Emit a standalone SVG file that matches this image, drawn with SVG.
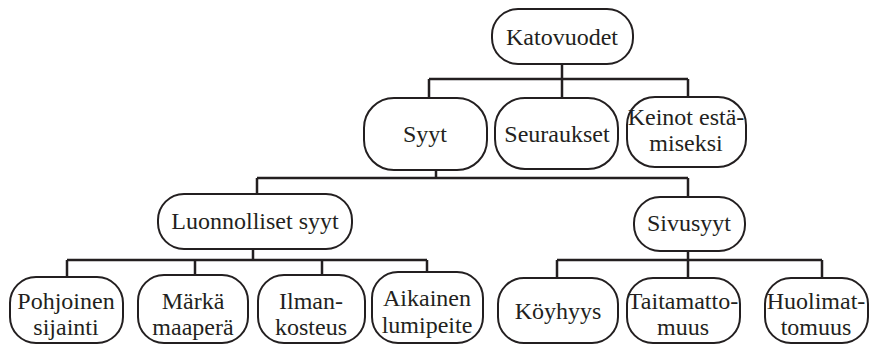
<svg xmlns="http://www.w3.org/2000/svg" width="870" height="347" viewBox="0 0 870 347">
<rect width="870" height="347" fill="#fff"/>
<g id="conn" fill="none" stroke="#231f20" stroke-width="2.5">
<path d="M562 64V79M429 79H688M429 79V98M562 79V98M688 79V97"/>
<path d="M436 170V178M257 178H688M257 178V194M688 178V197"/>
<path d="M253 249V260M67 260H427M67 260V277M195 260V275M322 260V275M427 260V272"/>
<path d="M688 251V260M557 260H822M557 260V278M688 260V278M822 260V278"/>
</g>
<g fill="#fff" stroke="#231f20" stroke-width="2">
<rect id="katovuodet-box" x="492" y="9" width="141" height="55" rx="26"/>
<rect id="syyt-box" x="364" y="98" width="123" height="72" rx="30"/>
<rect id="seuraukset-box" x="495" y="98" width="123" height="71" rx="30"/>
<rect id="keinot-box" x="627" y="97" width="119" height="70" rx="28"/>
<rect id="luonnolliset-box" x="158" y="194" width="194" height="55" rx="26"/>
<rect id="sivusyyt-box" x="634" y="197" width="111" height="54" rx="26"/>
<rect id="pohjoinen-box" x="10" y="277" width="113" height="66" rx="26"/>
<rect id="marka-box" x="138" y="275" width="110" height="68" rx="26"/>
<rect id="ilman-box" x="258" y="275" width="107" height="68" rx="26"/>
<rect id="aikainen-box" x="372" y="272" width="111" height="71" rx="26"/>
<rect id="koyhyys-box" x="498" y="278" width="120" height="65" rx="26"/>
<rect id="taitamatto-box" x="627" y="278" width="113" height="65" rx="26"/>
<rect id="huolimat-box" x="765" y="278" width="103" height="65" rx="26"/>
</g>
<g fill="#231f20" text-anchor="middle">
<text x="562" y="45" font-family="Liberation Serif" font-size="24">Katovuodet</text>
<text x="425" y="142" font-family="Liberation Serif" font-size="24">Syyt</text>
<text x="557" y="142" font-family="Liberation Serif" font-size="24">Seuraukset</text>
<text x="686" y="125" font-family="Liberation Serif" font-size="24">Keinot estä-</text>
<text x="686" y="151" font-family="Liberation Serif" font-size="24">miseksi</text>
<text x="255" y="229" font-family="Liberation Serif" font-size="24">Luonnolliset syyt</text>
<text x="689" y="231" font-family="Liberation Serif" font-size="24">Sivusyyt</text>
<text x="66" y="309" font-family="Liberation Serif" font-size="24">Pohjoinen</text>
<text x="66" y="335" font-family="Liberation Serif" font-size="24">sijainti</text>
<text x="193" y="309" font-family="Liberation Serif" font-size="24">Märkä</text>
<text x="193" y="335" font-family="Liberation Serif" font-size="24">maaperä</text>
<text x="311" y="309" font-family="Liberation Serif" font-size="24">Ilman-</text>
<text x="311" y="335" font-family="Liberation Serif" font-size="24">kosteus</text>
<text x="427" y="306" font-family="Liberation Serif" font-size="24">Aikainen</text>
<text x="427" y="333" font-family="Liberation Serif" font-size="24">lumipeite</text>
<text x="558" y="319" font-family="Liberation Serif" font-size="24">Köyhyys</text>
<text x="683" y="309" font-family="Liberation Serif" font-size="24">Taitamatto-</text>
<text x="683" y="335" font-family="Liberation Serif" font-size="24">muus</text>
<text x="816" y="309" font-family="Liberation Serif" font-size="24">Huolimat-</text>
<text x="816" y="335" font-family="Liberation Serif" font-size="24">tomuus</text>
</g>
</svg>
